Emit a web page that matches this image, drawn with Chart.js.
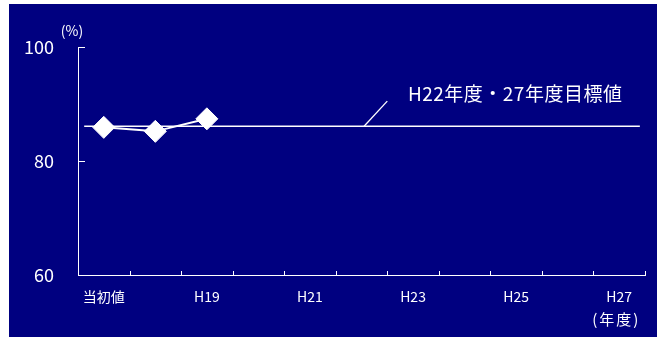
<!DOCTYPE html>
<html>
<head>
<meta charset="utf-8">
<script src="https://cdn.jsdelivr.net/npm/chart.js@4.4.1/dist/chart.umd.min.js"></script>
<style>
  html, body { margin: 0; padding: 0; background: #ffffff; }
  #panel { position: absolute; left: 9px; top: 4px; width: 648px; height: 333px; background: #000080; }
  canvas { display: block; }
</style>
</head>
<body>
<div id="panel"><canvas id="chart" width="648" height="333"></canvas></div>
<script>
// Fiscal years on the horizontal axis (every other one is labelled)
const categories = ['当初値', 'H18', 'H19', 'H20', 'H21', 'H22', 'H23', 'H24', 'H25', 'H26', 'H27'];
// Measured results (%)
const results = [85.9, 85.2, 87.4, null, null, null, null, null, null, null, null];
// Target for H22 and H27 (%)
const targetValue = 86.1;
// Extent of the target line in category units
const targetSpan = [-0.38, 10.4];
// Leader line from the target to its label, in category units / %
const leaderX = [5.05, 5.5];
const leaderY = [86.1, 90.5];
const targetLabel = 'H22年度・27年度目標値';
const targetLabelPos = [5.9, 91.8];
// Value axis
const yTicks = [60, 80, 100];
const unitLabel = '(%)';
const yearLabel = '(年度)';

const FONT = "'Noto Sans CJK JP', 'Noto Sans', sans-serif";
Chart.defaults.font.family = FONT;
Chart.defaults.color = '#ffffff';

const decorations = {
  id: 'decorations',
  afterDraw(chart) {
    const ctx = chart.ctx;
    const xs = chart.scales.x, xl = chart.scales.xl, ys = chart.scales.y;
    const area = chart.chartArea;
    ctx.save();
    ctx.strokeStyle = '#ffffff';
    ctx.lineWidth = 1;
    // inward tick marks between categories
    for (let i = 0; i <= categories.length; i++) {
      const px = Math.round(xs.getPixelForValue(i - 0.5)) + 0.5;
      ctx.beginPath();
      ctx.moveTo(px, area.bottom);
      ctx.lineTo(px, area.bottom - 4);
      ctx.stroke();
    }
    // inward tick marks on the value axis
    yTicks.forEach(v => {
      if (v <= ys.min) return;
      const py = Math.round(ys.getPixelForValue(v)) + 0.5;
      ctx.beginPath();
      ctx.moveTo(area.left, py);
      ctx.lineTo(area.left + 7, py);
      ctx.stroke();
    });
    ctx.fillStyle = '#ffffff';
    // target label
    ctx.font = '19px ' + FONT;
    ctx.letterSpacing = '0.5px';
    ctx.textAlign = 'left';
    ctx.textBaseline = 'middle';
    ctx.fillText(targetLabel, xl.getPixelForValue(targetLabelPos[0]), ys.getPixelForValue(targetLabelPos[1]));
    // unit label above the value axis
    ctx.letterSpacing = '0px';
    ctx.font = '14px ' + FONT;
    ctx.textAlign = 'center';
    ctx.fillText(unitLabel, area.left - 6, area.top - 16);
    // year unit under the last category label
    ctx.font = '15px ' + FONT;
    ctx.letterSpacing = '2px';
    ctx.fillText(yearLabel, xs.getPixelForValue(categories.length - 1) - 3, area.bottom + 44);
    ctx.restore();
  }
};

new Chart(document.getElementById('chart'), {
  type: 'line',
  data: {
    labels: categories,
    datasets: [
      {
        data: results,
        xAxisID: 'x',
        borderColor: '#ffffff',
        borderWidth: 2,
        backgroundColor: '#ffffff',
        pointStyle: 'rectRot',
        pointRadius: 11,
        pointBorderWidth: 1,
        pointBackgroundColor: '#ffffff',
        pointBorderColor: '#ffffff',
        order: 0
      },
      {
        data: targetSpan.map(x => ({ x: x, y: targetValue })),
        xAxisID: 'xl',
        borderColor: '#ffffff',
        borderWidth: 1.3,
        pointRadius: 0,
        order: 1
      },
      {
        data: leaderX.map((x, i) => ({ x: x, y: leaderY[i] })),
        xAxisID: 'xl',
        borderColor: '#ffffff',
        borderWidth: 1.3,
        pointRadius: 0,
        order: 2
      }
    ]
  },
  options: {
    responsive: false,
    animation: false,
    layout: { padding: { left: 0, right: 8, top: 43, bottom: 0 } },
    plugins: { legend: { display: false }, tooltip: { enabled: false } },
    scales: {
      x: {
        type: 'category',
        offset: true,
        grid: { display: true, drawOnChartArea: false, drawTicks: false, color: 'rgba(0,0,0,0)' },
        border: { display: true, color: '#ffffff', width: 1 },
        ticks: {
          autoSkip: false,
          maxRotation: 0,
          padding: 13,
          color: '#ffffff',
          font: { size: 14 },
          callback: (v, i) => (i % 2 === 0 ? categories[i] : '')
        },
        afterFit: s => { s.height = 62; }
      },
      xl: {
        type: 'linear',
        display: false,
        min: -0.5,
        max: categories.length - 0.5
      },
      y: {
        min: yTicks[0],
        max: yTicks[yTicks.length - 1],
        grid: { display: true, drawOnChartArea: false, drawTicks: false, color: 'rgba(0,0,0,0)' },
        border: { display: true, color: '#ffffff', width: 1 },
        ticks: {
          stepSize: yTicks[1] - yTicks[0],
          padding: 24,
          color: '#ffffff',
          font: { size: 18 }
        },
        afterFit: s => { s.width = 69; }
      }
    }
  },
  plugins: [decorations]
});
</script>
</body>
</html>
